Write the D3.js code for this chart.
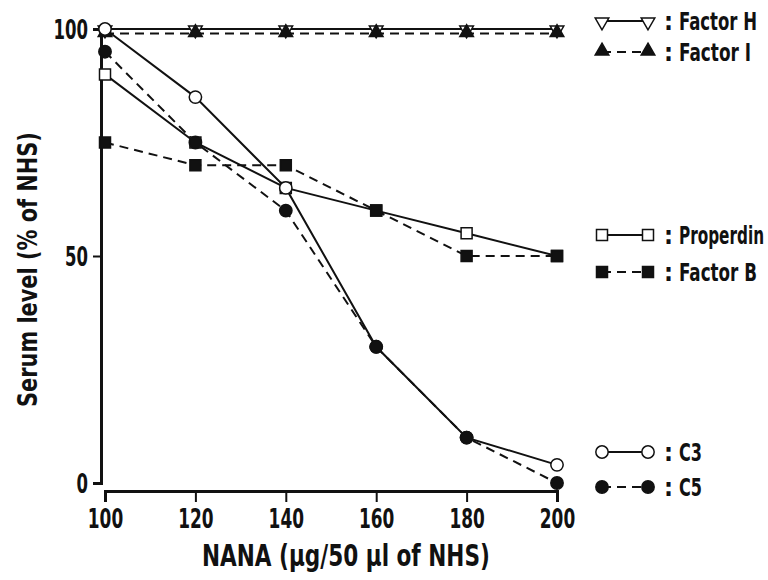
<!DOCTYPE html>
<meta charset="utf-8">
<script src="https://d3js.org/d3.v7.min.js"></script>
<style>
  body { margin: 0; background: #fff; }
  text { font-family: "Liberation Sans Narrow", "DejaVu Sans Condensed", sans-serif; font-weight: bold; fill: #111; }
</style>
<div id="chart"></div>
<script>
// NANA dose (ug / 50 ul of NHS)
var doses = [100, 120, 140, 160, 180, 200];

// serum levels, % of NHS
var factorH   = [100, 100, 100, 100, 100, 100];
var factorI   = [99, 99, 99, 99, 99, 99];
var properdin = [90, 75, 65, 60, 55, 50];
var factorB   = [75, 70, 70, 60, 50, 50];
var c3        = [100, 85, 65, 30, 10, 4];
var c5        = [95, 75, 60, 30, 10, 0];

var xTicks = [100, 120, 140, 160, 180, 200];
var yTicks = [0, 50, 100];

var series = [
  { name: "Factor H",  values: factorH,   symbol: "triDown", filled: false, dashed: false },
  { name: "Factor I",  values: factorI,   symbol: "triUp",   filled: true,  dashed: true },
  { name: "Properdin", values: properdin, symbol: "square",  filled: false, dashed: false },
  { name: "Factor B",  values: factorB,   symbol: "square",  filled: true,  dashed: true },
  { name: "C3",        values: c3,        symbol: "circle",  filled: false, dashed: false },
  { name: "C5",        values: c5,        symbol: "circle",  filled: true,  dashed: true }
];

var width = 768, height = 580;
var ink = "#111";

var svg = d3.select("#chart").append("svg")
  .attr("width", width)
  .attr("height", height);

var x = d3.scaleLinear().domain([100, 200]).range([105, 557]);
var y = d3.scaleLinear().domain([0, 100]).range([483, 29]);

// squeeze a text horizontally to a given width (condensed look)
// the text is placed at (tx,ty) via transform so its box stays honest
function fit(t, tx, ty, w, rot) {
  t.attr("x", 0).attr("y", 0);
  var n = t.node().getComputedTextLength();
  var s = Math.min(1, w / n);
  t.attr("transform", "translate(" + tx + "," + ty + ")" + (rot ? " rotate(" + rot + ")" : "") + " scale(" + s + ",1)");
}

// symbol generators
function symPath(kind) {
  if (kind === "circle") return d3.symbol().type(d3.symbolCircle).size(120)();
  if (kind === "square") return d3.symbol().type(d3.symbolSquare).size(121)();
  return d3.symbol().type(d3.symbolTriangle).size(80)();
}
function symTransform(kind, px, py) {
  if (kind === "triDown") return "translate(" + px + "," + (py + 1) + ") rotate(180)";
  if (kind === "triUp") return "translate(" + px + "," + (py - 1) + ")";
  return "translate(" + px + "," + py + ")";
}

// axes
var xAxis = svg.append("g")
  .attr("transform", "translate(0,491)")
  .call(d3.axisBottom(x).tickValues(xTicks).tickSize(11).tickSizeOuter(11));
xAxis.select(".domain").attr("stroke-width", 3);
xAxis.selectAll(".tick line").attr("stroke-width", 2);
xAxis.selectAll("text")
  .style("font-size", "27px").attr("fill", ink).attr("dy", 0)
  .each(function () {
    var t = d3.select(this);
    fit(t, 0, 37, t.text().length * 11.8);
  });

var yAxis = svg.append("g")
  .attr("transform", "translate(101,0)")
  .call(d3.axisLeft(y).tickValues(yTicks).tickSize(8).tickSizeOuter(8));
yAxis.select(".domain").attr("stroke-width", 3);
yAxis.selectAll(".tick line").attr("stroke-width", 2);
yAxis.selectAll("text")
  .style("font-size", "26px").attr("fill", ink).attr("dy", "0.36em")
  .each(function () {
    var t = d3.select(this);
    fit(t, -13, 0, t.text().length * 11.5);
  });
yAxis.selectAll("path, line").attr("stroke", ink);
xAxis.selectAll("path, line").attr("stroke", ink);

// axis titles
svg.append("text")
  .style("font-size", "30px")
  .text("NANA (\u03bcg/50 \u03bcl of NHS)")
  .call(fit, 202, 566, 288);

svg.append("text")
  .style("font-size", "27px")
  .text("Serum level (% of NHS)")
  .call(fit, 37, 407, 275, -90);

// lines
var line = d3.line()
  .x(function (d, i) { return x(doses[i]); })
  .y(function (d) { return y(d); });

series.forEach(function (s) {
  svg.append("path")
    .attr("d", line(s.values))
    .attr("fill", "none")
    .attr("stroke", ink)
    .attr("stroke-width", 2)
    .attr("stroke-dasharray", s.dashed ? "9,6" : null);
});

// markers
var drawOrder = [0, 1, 2, 4, 3, 5];
drawOrder.forEach(function (k) {
  var s = series[k];
  svg.selectAll(null)
    .data(s.values)
    .enter()
    .append("path")
    .attr("d", symPath(s.symbol))
    .attr("transform", function (d, i) { return symTransform(s.symbol, x(doses[i]), y(d)); })
    .attr("fill", s.filled ? ink : "#fff")
    .attr("stroke", ink)
    .attr("stroke-width", 1.5);
});

// legend
var legendY = [21, 52, 235, 272, 452, 487];
var legendW = [78, 72, 85, 78, 23, 23];
var legend = svg.append("g");
series.forEach(function (s, i) {
  var g = legend.append("g").attr("transform", "translate(0," + legendY[i] + ")");
  g.append("line")
    .attr("x1", 602).attr("x2", 648)
    .attr("stroke", ink).attr("stroke-width", 2)
    .attr("stroke-dasharray", s.dashed ? "9,6" : null);
  [602, 648].forEach(function (px) {
    g.append("path")
      .attr("d", symPath(s.symbol))
      .attr("transform", symTransform(s.symbol, px, 0))
      .attr("fill", s.filled ? ink : "#fff")
      .attr("stroke", ink)
      .attr("stroke-width", 1.5);
  });
  g.append("text")
    .attr("x", 664).attr("y", 0).attr("dy", "0.36em")
    .style("font-size", "25px")
    .text(":");
  g.append("text")
    .attr("dy", "0.36em")
    .style("font-size", "25px")
    .text(s.name)
    .call(fit, 679, 0, legendW[i]);
});
</script>
